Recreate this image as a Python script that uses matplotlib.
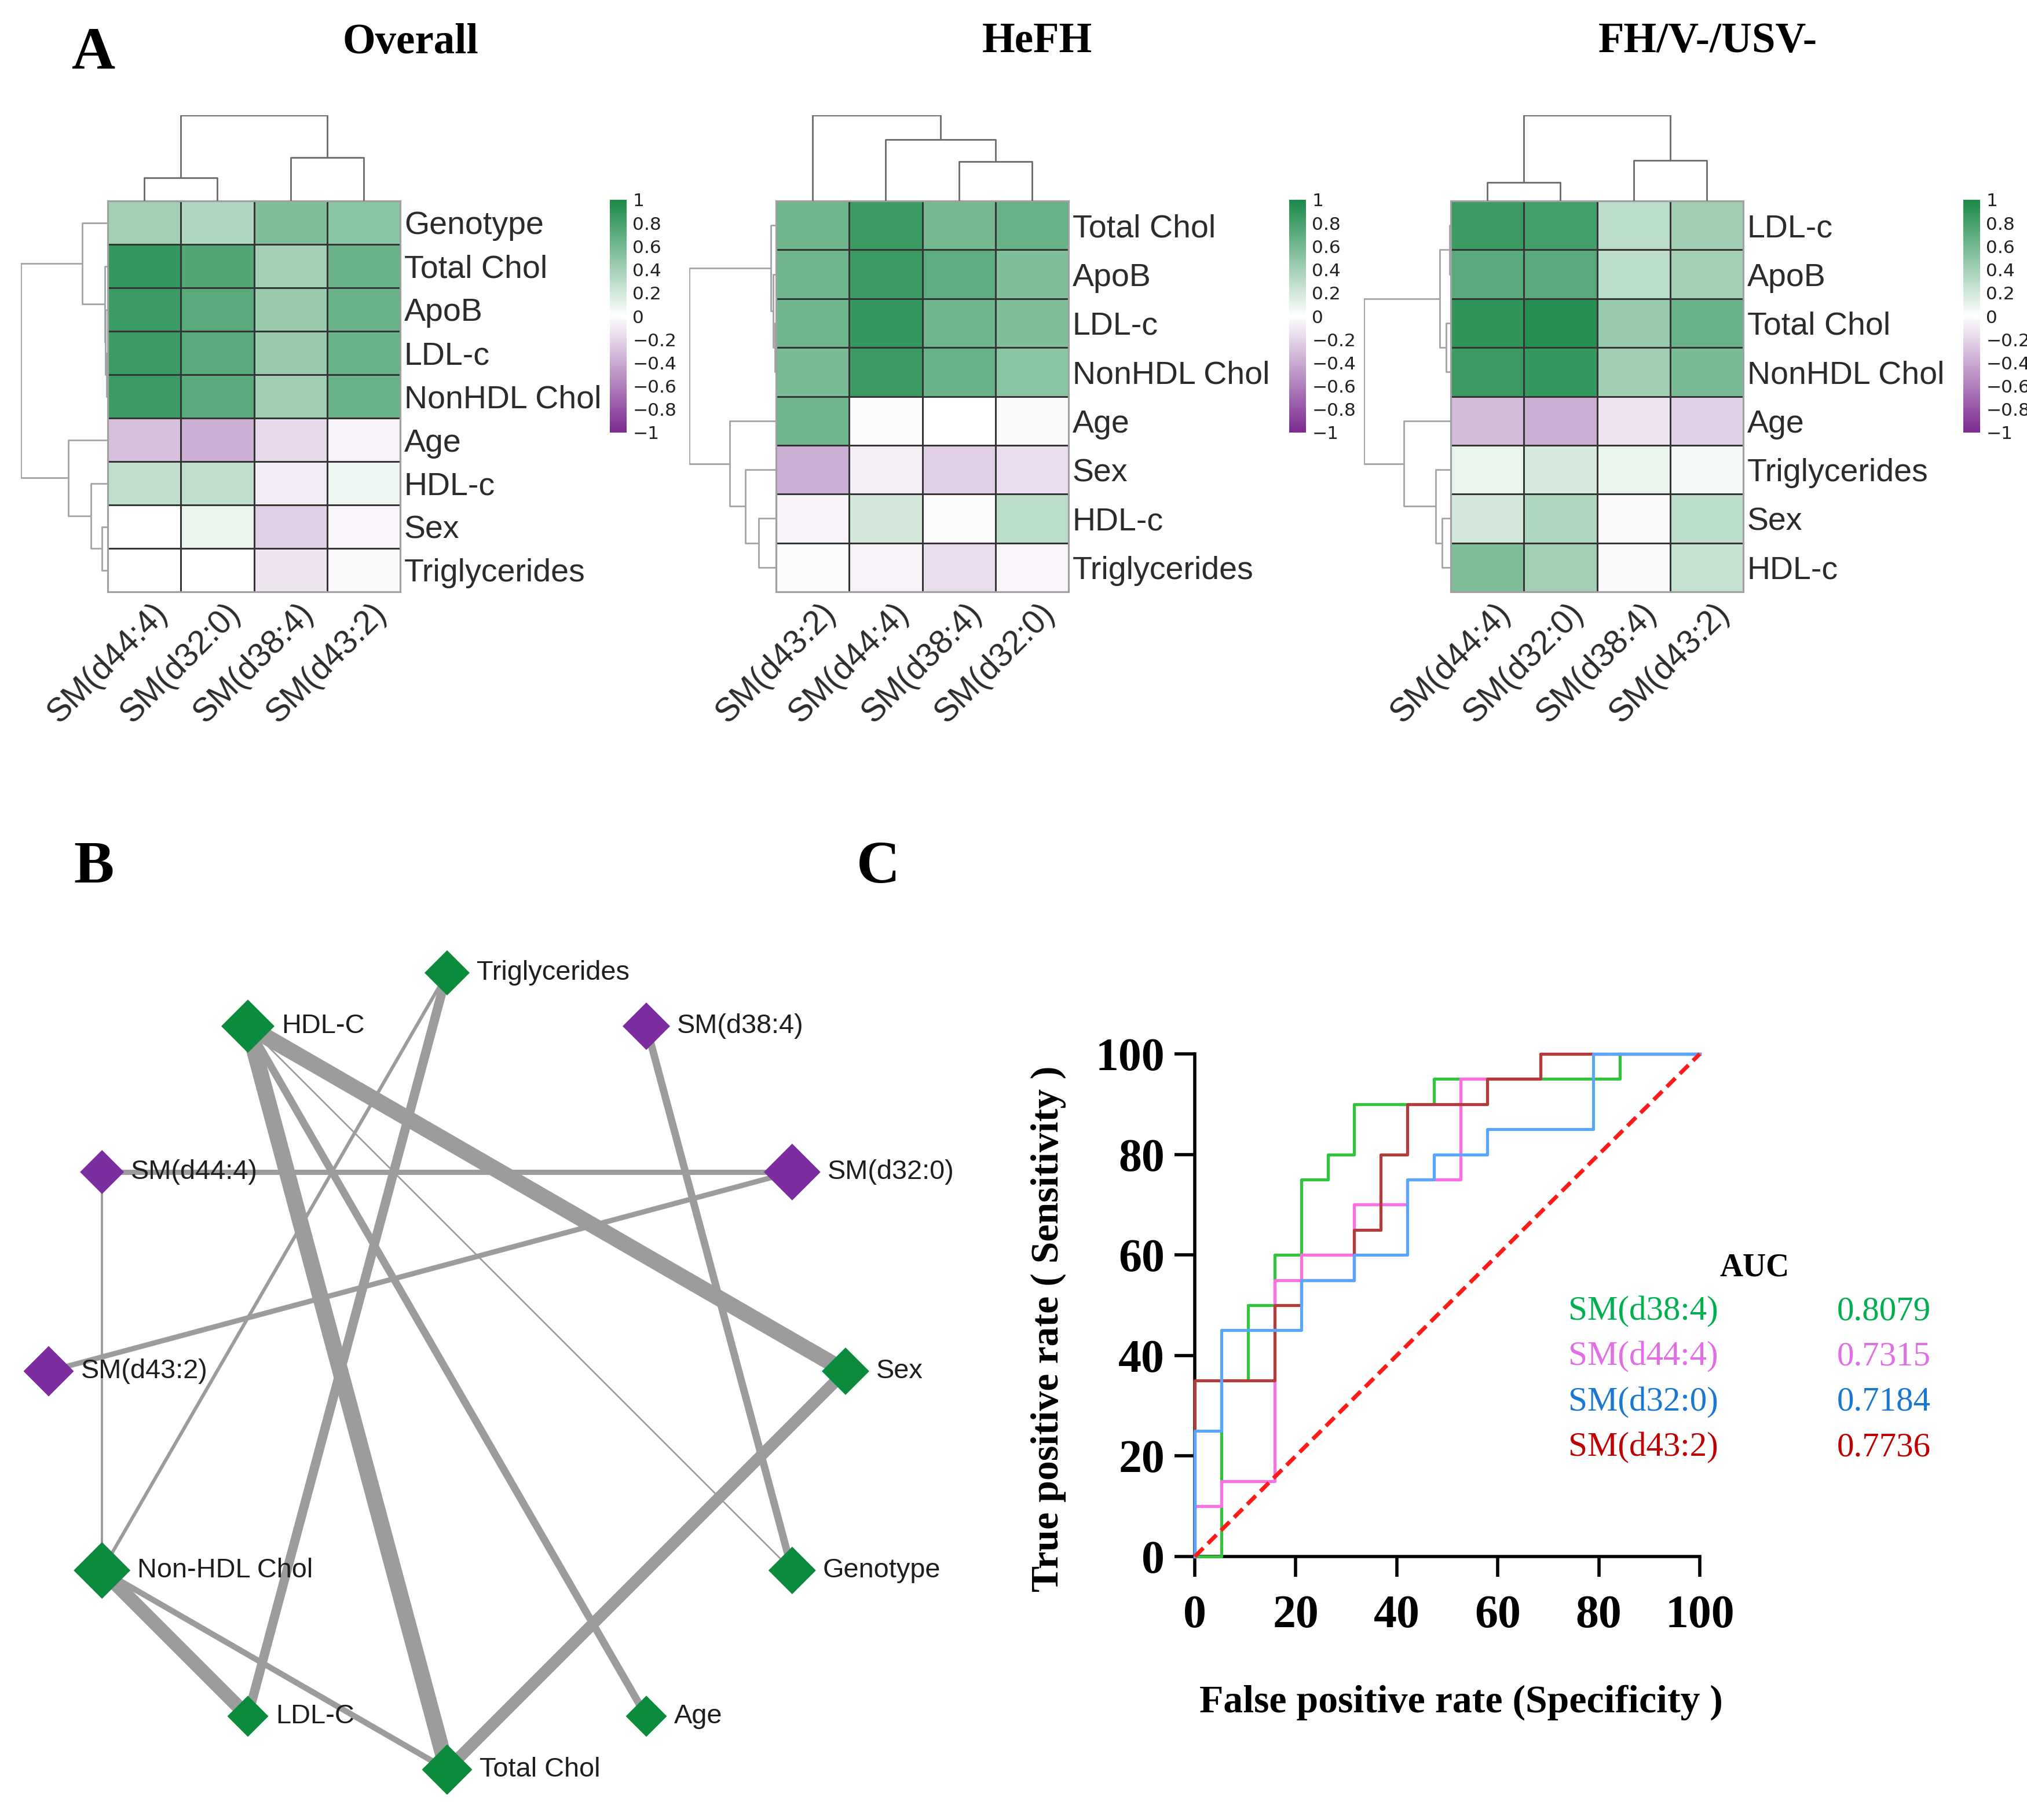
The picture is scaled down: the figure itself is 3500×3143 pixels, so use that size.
import numpy as np
import matplotlib
matplotlib.use('Agg')
import matplotlib.pyplot as plt
import matplotlib.transforms as mtransforms
from matplotlib.colors import LinearSegmentedColormap

# canvas in output pixels
W, H = 3500, 3143
DPI = 250
PT = DPI / 72.0   # pixels per point

SERIF = 'Liberation Serif'
SANS = 'Liberation Sans'

# ---------------- Panel A : correlation heatmaps ----------------
overall_rows = ['Genotype', 'Total Chol', 'ApoB', 'LDL-c', 'NonHDL Chol', 'Age', 'HDL-c', 'Sex', 'Triglycerides']
overall_cols = ['SM(d44:4)', 'SM(d32:0)', 'SM(d38:4)', 'SM(d43:2)']
overall_r = [[0.40, 0.35, 0.55, 0.50],
             [0.88, 0.75, 0.40, 0.65],
             [0.85, 0.72, 0.45, 0.65],
             [0.85, 0.72, 0.45, 0.65],
             [0.85, 0.72, 0.42, 0.65],
             [-0.30, -0.38, -0.18, -0.06],
             [0.28, 0.28, -0.10, 0.08],
             [0.00, 0.10, -0.22, -0.05],
             [0.00, 0.00, -0.12, -0.03]]
# linkage: (child a, child b, height); children >= n are earlier merges
overall_row_links = [(3, 4, 3), (2, 9, 5), (1, 10, 7), (0, 11, 57),
                     (7, 8, 13), (6, 13, 38), (5, 14, 88), (12, 15, 195)]
overall_col_links = [(0, 1, 58), (2, 3, 108), (4, 5, 213)]

hefh_rows = ['Total Chol', 'ApoB', 'LDL-c', 'NonHDL Chol', 'Age', 'Sex', 'HDL-c', 'Triglycerides']
hefh_cols = ['SM(d43:2)', 'SM(d44:4)', 'SM(d38:4)', 'SM(d32:0)']
hefh_r = [[0.62, 0.85, 0.60, 0.65],
          [0.62, 0.85, 0.70, 0.55],
          [0.62, 0.88, 0.62, 0.55],
          [0.58, 0.85, 0.65, 0.50],
          [0.62, 0.02, 0.00, -0.03],
          [-0.38, -0.08, -0.22, -0.16],
          [-0.06, 0.20, -0.02, 0.30],
          [0.03, -0.06, -0.16, -0.05]]
hefh_row_links = [(2, 3, 3), (1, 8, 7), (0, 9, 11),
                  (6, 7, 38), (5, 11, 68), (4, 12, 103), (10, 13, 193)]
hefh_col_links = [(2, 3, 100), (1, 4, 155), (0, 5, 217)]

fh_rows = ['LDL-c', 'ApoB', 'Total Chol', 'NonHDL Chol', 'Age', 'Triglycerides', 'Sex', 'HDL-c']
fh_cols = ['SM(d44:4)', 'SM(d32:0)', 'SM(d38:4)', 'SM(d43:2)']
fh_r = [[0.85, 0.82, 0.30, 0.42],
        [0.72, 0.72, 0.30, 0.40],
        [0.90, 0.95, 0.45, 0.65],
        [0.85, 0.88, 0.42, 0.58],
        [-0.32, -0.38, -0.12, -0.22],
        [0.10, 0.18, 0.10, 0.05],
        [0.20, 0.35, -0.03, 0.30],
        [0.55, 0.40, -0.03, 0.25]]
fh_row_links = [(0, 1, 3), (2, 3, 10), (8, 9, 25),
                (6, 7, 20), (5, 11, 35), (4, 12, 108), (10, 13, 200)]
fh_col_links = [(0, 1, 47), (2, 3, 103), (4, 5, 217)]

cbar_ticks = [1, 0.8, 0.6, 0.4, 0.2, 0, -0.2, -0.4, -0.6, -0.8, -1]

# ---------------- Panel B : correlation network ----------------
# nodes in circular-layout order, starting at 3 o'clock, counter-clockwise
net_nodes = ['Sex', 'SM(d32:0)', 'SM(d38:4)', 'Triglycerides', 'HDL-C', 'SM(d44:4)',
             'SM(d43:2)', 'Non-HDL Chol', 'LDL-C', 'Total Chol', 'Age', 'Genotype']
net_is_sm = [0, 1, 1, 0, 0, 1, 1, 0, 0, 0, 0, 0]
net_edge_a = ['HDL-C', 'HDL-C', 'Total Chol', 'Non-HDL Chol', 'Triglycerides', 'HDL-C',
              'SM(d38:4)', 'SM(d44:4)', 'SM(d43:2)', 'Non-HDL Chol', 'Non-HDL Chol',
              'SM(d44:4)', 'HDL-C']
net_edge_b = ['Sex', 'Total Chol', 'Sex', 'LDL-C', 'LDL-C', 'Age',
              'Genotype', 'SM(d32:0)', 'SM(d32:0)', 'Total Chol', 'Triglycerides',
              'Non-HDL Chol', 'Genotype']
net_edge_w = [8.0, 8.0, 5.8, 6.9, 4.6, 3.7, 3.7, 2.6, 2.6, 2.9, 1.7, 1.1, 0.8]

# ---------------- Panel C : ROC curves ----------------
roc_names = ['SM(d38:4)', 'SM(d44:4)', 'SM(d32:0)', 'SM(d43:2)']
roc_auc = ['0.8079', '0.7315', '0.7184', '0.7736']
d38_fpr = [0, 5.26, 5.26, 10.53, 10.53, 15.79, 15.79, 21.05, 21.05, 26.32, 26.32, 31.58, 31.58, 47.37, 47.37, 84.21, 84.21, 100]
d38_tpr = [0, 0, 35, 35, 50, 50, 60, 60, 75, 75, 80, 80, 90, 90, 95, 95, 100, 100]
d44_fpr = [0, 0, 5.26, 5.26, 15.79, 15.79, 21.05, 21.05, 31.58, 31.58, 42.11, 42.11, 52.63, 52.63, 68.42, 68.42, 100]
d44_tpr = [0, 10, 10, 15, 15, 55, 55, 60, 60, 70, 70, 75, 75, 95, 95, 100, 100]
d32_fpr = [0, 0, 5.26, 5.26, 21.05, 21.05, 31.58, 31.58, 42.11, 42.11, 47.37, 47.37, 57.89, 57.89, 78.95, 78.95, 100]
d32_tpr = [0, 25, 25, 45, 45, 55, 55, 60, 60, 75, 75, 80, 80, 85, 85, 100, 100]
d43_fpr = [0, 0, 15.79, 15.79, 21.05, 21.05, 31.58, 31.58, 36.84, 36.84, 42.11, 42.11, 57.89, 57.89, 68.42, 68.42, 100]
d43_tpr = [0, 35, 35, 50, 50, 55, 55, 65, 65, 80, 80, 90, 90, 95, 95, 100, 100]
roc_ticks = [0, 20, 40, 60, 80, 100]


def box(x0, y0, x1, y1):
    # pixel box (top-left origin) -> figure fraction rect
    return [x0 / W, 1 - y1 / H, (x1 - x0) / W, (y1 - y0) / H]


def ftext(x, y, s, **kw):
    fig.text(x / W, 1 - y / H, s, **kw)


def draw_dendro(ax, links, n, side, color):
    pos = {i: i + 0.5 for i in range(n)}
    hgt = {i: 0.0 for i in range(n)}
    for k, (a, b, h) in enumerate(links):
        xs = [pos[a], pos[a], pos[b], pos[b]]
        ys = [hgt[a], h, h, hgt[b]]
        if side == 'top':
            ax.plot(xs, ys, color=color, lw=0.8, solid_capstyle='butt')
        else:
            ax.plot(ys, xs, color=color, lw=0.8, solid_capstyle='butt')
        pos[n + k] = (pos[a] + pos[b]) / 2
        hgt[n + k] = h
    top_h = links[-1][2]
    if side == 'top':
        ax.set_xlim(0, n)
        ax.set_ylim(0, top_h)
    else:
        ax.set_ylim(n, 0)
        ax.set_xlim(top_h, 0)
    ax.axis('off')


cmap = LinearSegmentedColormap.from_list('purple_green', ['#7b2a8f', '#ffffff', '#1a8a48'])

fig = plt.figure(figsize=(W / DPI, H / DPI), dpi=DPI)

CELL_TOP, CELL_BOT, DEN_TOP = 347, 1022, 199


def heat_panel(x0, rows, cols, vals, row_links, col_links, cbar_x):
    x1 = x0 + 505
    ax = fig.add_axes(box(x0, CELL_TOP, x1, CELL_BOT))
    mesh = ax.pcolormesh(np.array(vals), cmap=cmap, vmin=-1, vmax=1,
                         edgecolors='#353535', linewidth=0.8)
    ax.set_xlim(0, len(cols))
    ax.set_ylim(len(rows), 0)
    ax.yaxis.tick_right()
    ax.set_yticks(np.arange(len(rows)) + 0.5)
    ax.set_yticklabels(rows, fontsize=16, family=SANS, color='#2b2b2b')
    ax.tick_params(axis='y', length=0, pad=2)
    ax.set_xticks([])
    for sp in ax.spines.values():
        sp.set_color('#a0a0a0')
        sp.set_linewidth(0.9)
    off = mtransforms.ScaledTranslation(12 / DPI, -10 / DPI, fig.dpi_scale_trans)
    for j, c in enumerate(cols):
        ax.text(j + 0.5, len(rows), c, rotation=45, ha='right', va='top',
                rotation_mode='anchor', fontsize=16.5, family=SANS, color='#2b2b2b',
                transform=ax.transData + off)

    rax = fig.add_axes(box(x0 - 150, CELL_TOP, x0, CELL_BOT))
    draw_dendro(rax, row_links, len(rows), 'left', '#a3a3a3')
    cax_d = fig.add_axes(box(x0, DEN_TOP, x1, CELL_TOP))
    draw_dendro(cax_d, col_links, len(cols), 'top', '#6a6a6a')

    cax = fig.add_axes(box(cbar_x, 345, cbar_x + 29, 747))
    cb = fig.colorbar(mesh, cax=cax)
    cb.outline.set_visible(False)
    cb.set_ticks(cbar_ticks)
    cb.set_ticklabels([('%g' % t).replace('-', '\u2212') for t in cbar_ticks])
    cax.tick_params(length=0, pad=3, labelsize=9, labelcolor='#222222')


heat_panel(186, overall_rows, overall_cols, overall_r, overall_row_links, overall_col_links, 1053)
heat_panel(1340, hefh_rows, hefh_cols, hefh_r, hefh_row_links, hefh_col_links, 2226)
heat_panel(2505, fh_rows, fh_cols, fh_r, fh_row_links, fh_col_links, 3390)

ftext(709, 74, 'Overall', ha='center', va='center', fontsize=21, fontweight='bold', family=SERIF)
ftext(1791, 72, 'HeFH', ha='center', va='center', fontsize=21, fontweight='bold', family=SERIF)
ftext(2949, 72, 'FH/V-/USV-', ha='center', va='center', fontsize=21, fontweight='bold', family=SERIF)

for lab, x, y in [('A', 162, 94), ('B', 162, 1499), ('C', 1517, 1499)]:
    ftext(x, y, lab, ha='center', va='center', fontsize=30, fontweight='bold', family=SERIF)

# ---------------- Panel B ----------------
cx, cy, rad = 772, 2368, 688.0
nx0, ny0, nx1, ny1 = 0, 1580, 1650, 3143
nax = fig.add_axes(box(nx0, ny0, nx1, ny1))
nax.set_xlim((nx0 - cx) / rad, (nx1 - cx) / rad)
nax.set_ylim((cy - ny1) / rad, (cy - ny0) / rad)
nax.axis('off')

ang = np.deg2rad(np.arange(len(net_nodes)) * 360.0 / len(net_nodes))
node_xy = {n: (np.cos(a), np.sin(a)) for n, a in zip(net_nodes, ang)}

for a, b, w in zip(net_edge_a, net_edge_b, net_edge_w):
    (xa, ya), (xb, yb) = node_xy[a], node_xy[b]
    nax.plot([xa, xb], [ya, yb], color='#9c9c9c', lw=w, solid_capstyle='butt', zorder=1)

node_diag_px = [82, 98, 82, 78, 92, 76, 87, 98, 71, 87, 71, 82]
for n, sm, d in zip(net_nodes, net_is_sm, node_diag_px):
    x, y = node_xy[n]
    d_pt = d / PT
    nax.scatter([x], [y], marker='D', s=(d_pt / np.sqrt(2)) ** 2,
                color='#7b2c9f' if sm else '#0b8c3c', edgecolors='none', zorder=3)
    nax.annotate(n, (x, y), xytext=(d_pt / 2 + 3.5, 0), textcoords='offset points',
                 ha='left', va='center', fontsize=13.5, family=SANS, color='#1e1e1e', zorder=4)

# ---------------- Panel C ----------------
rx0, ry0, rx1, ry1 = 2063, 1820, 2935, 2688
rax = fig.add_axes(box(rx0, ry0, rx1, ry1))
rax.plot(d38_fpr, d38_tpr, color='#33c43d', lw=1.5, clip_on=False, zorder=3)
rax.plot(d44_fpr, d44_tpr, color='#ff6fe4', lw=1.5, clip_on=False, zorder=3)
rax.plot(d43_fpr, d43_tpr, color='#b23b3b', lw=1.5, clip_on=False, zorder=3)
rax.plot(d32_fpr, d32_tpr, color='#5aa6ff', lw=1.5, clip_on=False, zorder=3)
rax.plot([0, 100], [0, 100], color='#ff1a1a', lw=2.0, ls=(0, (3, 1.6)), clip_on=False, zorder=4)
rax.set_xlim(0, 100)
rax.set_ylim(0, 100)
rax.set_xticks(roc_ticks)
rax.set_yticks(roc_ticks)
rax.spines['top'].set_visible(False)
rax.spines['right'].set_visible(False)
for sp in ('left', 'bottom'):
    rax.spines[sp].set_linewidth(1.6)
rax.tick_params(direction='out', length=10, width=1.6)
rax.tick_params(axis='x', pad=9)
rax.tick_params(axis='y', pad=5)
for t in rax.get_xticklabels() + rax.get_yticklabels():
    t.set_fontsize(23)
    t.set_fontweight('bold')
    t.set_family(SERIF)

ftext(1810, 2295, 'True positive rate ( Sensitivity )', rotation=90, ha='center', va='center',
      fontsize=19.5, fontweight='bold', family=SERIF)
ftext(2523, 2940, 'False positive rate (Specificity )', ha='center', va='center',
      fontsize=19.5, fontweight='bold', family=SERIF)

ftext(3030, 2190, 'AUC', ha='center', va='center', fontsize=16, fontweight='bold', family=SERIF)
auc_colors = ['#00b050', '#e26ee6', '#1a78d2', '#c00000']
for i, (nm, v, c) in enumerate(zip(roc_names, roc_auc, auc_colors)):
    y = 2265 + i * 78.5
    ftext(2708, y, nm, ha='left', va='center', fontsize=17, family=SERIF, color=c)
    ftext(3172, y, v, ha='left', va='center', fontsize=17, family=SERIF, color=c)

fig.savefig('out.png', dpi=DPI, facecolor='white')
